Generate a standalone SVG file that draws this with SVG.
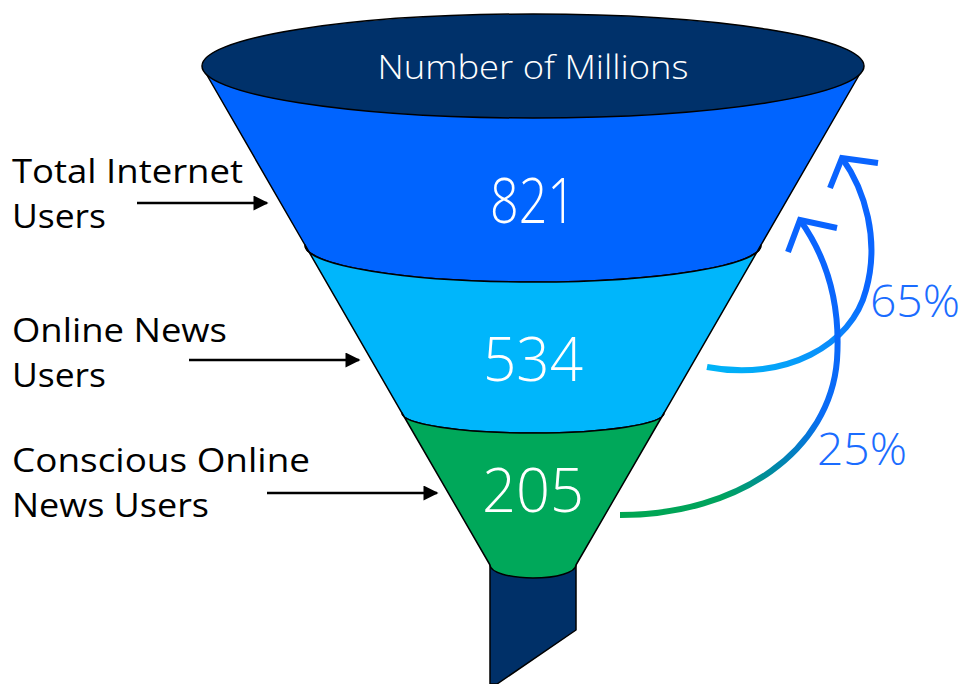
<svg xmlns="http://www.w3.org/2000/svg" width="963" height="684" viewBox="0 0 963 684">
  <style>
    .edge { stroke: #000; stroke-width: 1.5; stroke-linejoin: round; }
    .val { font-family: "Open Sans", "Lato", "Liberation Sans", sans-serif; font-weight: 300; fill: #fff; text-anchor: middle; }
    .lbl { font-family: "Open Sans", "Lato", "Liberation Sans", sans-serif; font-weight: 400; fill: #000; font-size: 33px; }
    .pct { font-family: "Open Sans", "Lato", "Liberation Sans", sans-serif; font-weight: 300; fill: #1a6cff; font-size: 44px; }
    .ptr { stroke: #000; stroke-width: 2.5; fill: none; }
    .arc { fill: none; stroke-width: 6; stroke-linecap: butt; stroke-linejoin: miter; }
  </style>
  <defs>
    <marker id="ah" viewBox="0 0 10 10" refX="9" refY="5" markerWidth="7" markerHeight="6" markerUnits="strokeWidth" orient="auto">
      <path d="M0,0 L10,5 L0,10 Z" fill="#000"/>
    </marker>
    <linearGradient id="g65" gradientUnits="userSpaceOnUse" x1="707" y1="367" x2="842" y2="158">
      <stop offset="0" stop-color="#00b4f7"/>
      <stop offset="0.35" stop-color="#0a8cfb"/>
      <stop offset="0.6" stop-color="#0a66ff"/>
      <stop offset="1" stop-color="#0a64ff"/>
    </linearGradient>
    <linearGradient id="g25" gradientUnits="userSpaceOnUse" x1="620" y1="515" x2="800" y2="220">
      <stop offset="0" stop-color="#00a651"/>
      <stop offset="0.2" stop-color="#00a35f"/>
      <stop offset="0.35" stop-color="#0088a8"/>
      <stop offset="0.55" stop-color="#0a6cf5"/>
      <stop offset="1" stop-color="#0a64ff"/>
    </linearGradient>
  </defs>

  <g id="spout">
    <path class="edge" d="M490,558 L576,558 L576,630 L497,684 L490,684 Z" fill="#003068"/>
  </g>

  <g id="band-total">
    <path class="edge" d="M204,70 L305,245 A228,37 0 0 0 761,245 L862,70 Z" fill="#0064ff"/>
    <text class="val" x="533" y="223" font-size="62" textLength="86" lengthAdjust="spacingAndGlyphs">821</text>
  </g>

  <g id="band-online">
    <path class="edge" d="M305,245 A228,37 0 0 0 761,245 L664,413 A131,20 0 0 1 402,413 Z" fill="#00b6fb"/>
    <text class="val" x="533" y="381" font-size="60" textLength="100" lengthAdjust="spacingAndGlyphs">534</text>
  </g>

  <g id="band-conscious">
    <path class="edge" d="M402,413 A131,20 0 0 0 664,413 L576,565 A43,13 0 0 1 490,565 Z" fill="#00a85a"/>
    <text class="val" x="533" y="512" font-size="60" textLength="102" lengthAdjust="spacingAndGlyphs">205</text>
  </g>

  <g id="top">
    <ellipse class="edge" cx="533" cy="66" rx="331" ry="52" fill="#00316a"/>
    <text class="val" x="533" y="79" font-size="33" textLength="311" lengthAdjust="spacingAndGlyphs">Number of Millions</text>
  </g>

  <g id="label-total">
    <text class="lbl" x="12" y="183" textLength="231" lengthAdjust="spacingAndGlyphs">Total Internet</text>
    <text class="lbl" x="12" y="228" textLength="94" lengthAdjust="spacingAndGlyphs">Users</text>
  </g>
  <g id="label-online">
    <text class="lbl" x="12" y="342" textLength="215" lengthAdjust="spacingAndGlyphs">Online News</text>
    <text class="lbl" x="12" y="387" textLength="94" lengthAdjust="spacingAndGlyphs">Users</text>
  </g>
  <g id="label-conscious">
    <text class="lbl" x="12" y="472" textLength="298" lengthAdjust="spacingAndGlyphs">Conscious Online</text>
    <text class="lbl" x="12" y="517" textLength="197" lengthAdjust="spacingAndGlyphs">News Users</text>
  </g>

  <g id="pct-65">
    <text class="pct" x="870" y="317" textLength="90" lengthAdjust="spacingAndGlyphs">65%</text>
  </g>
  <g id="pct-25">
    <text class="pct" x="817" y="465" textLength="90" lengthAdjust="spacingAndGlyphs">25%</text>
  </g>

  <g id="connectors">
    <line class="ptr" x1="137" y1="203" x2="267" y2="203" marker-end="url(#ah)"/>
    <line class="ptr" x1="189" y1="360" x2="359" y2="360" marker-end="url(#ah)"/>
    <line class="ptr" x1="267" y1="493" x2="437" y2="493" marker-end="url(#ah)"/>

    <path class="arc" stroke="url(#g65)" d="M707,367 C785,382 852,345 866,290 C880,240 865,190 842,158"/>
    <path class="arc" stroke="#0a64ff" d="M830,188 L842,158 L878,163"/>

    <path class="arc" stroke="url(#g25)" d="M620,515 C740,515 830,450 837,360 C841,300 825,255 800,220"/>
    <path class="arc" stroke="#0a64ff" d="M788,252 L800,220 L837,228"/>
  </g>
</svg>
